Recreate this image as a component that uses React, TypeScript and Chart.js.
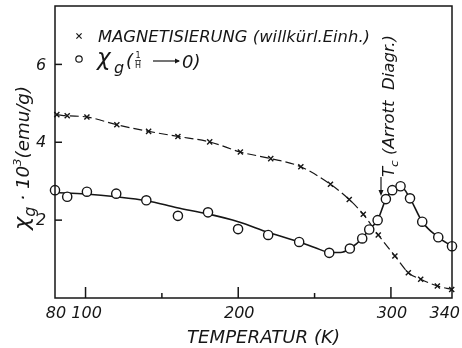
import React, { useEffect, useRef } from 'react';
import { Chart, registerables } from 'chart.js';

Chart.register(...registerables);

// Magnetisierung (willkürl. Einh.) – crosses
const magT = [81.2, 88, 100.9, 120.5, 141.3, 160.5, 181.3, 201.4, 221.3, 241, 260.4, 272.7, 281.9, 291.7, 302.6, 311.4, 319.5, 330.4, 339.8];
const magV = [4.71, 4.68, 4.65, 4.45, 4.28, 4.15, 4.01, 3.75, 3.58, 3.37, 2.92, 2.53, 2.15, 1.62, 1.08, 0.65, 0.48, 0.31, 0.22];

// chi_g (1/H -> 0) – open circles
const chiT = [80, 88, 100.9, 120.1, 139.8, 160.5, 180.2, 199.9, 219.6, 239.9, 259.6, 273.1, 281.2, 285.8, 291.3, 296.7, 300.9, 306.3, 312.5, 320.5, 331, 340];
const chiV = [2.77, 2.6, 2.73, 2.68, 2.51, 2.11, 2.2, 1.77, 1.62, 1.44, 1.16, 1.27, 1.53, 1.76, 2.0, 2.54, 2.77, 2.87, 2.56, 1.96, 1.56, 1.33];

// drawn guide curve through the circles
const fitT = [80, 100, 120, 140, 160, 180, 200, 220, 240, 250, 260, 267, 273.1, 281.2, 285.8, 291.3, 296.7, 300.9, 306.3, 312.5, 320.5, 331, 340];
const fitV = [2.71, 2.67, 2.6, 2.5, 2.32, 2.16, 1.96, 1.68, 1.44, 1.3, 1.17, 1.17, 1.27, 1.53, 1.76, 2.0, 2.54, 2.77, 2.87, 2.56, 1.96, 1.56, 1.33];

const xTickValues = [100, 150, 200, 250, 300];
const xMajorTicks = [100, 200, 300];
const xTickLabels = [80, 100, 200, 300, 340];
const yTickValues = [2, 4, 6];
const yTickLabels = [2, 4, 6];

const FONT = '"DejaVu Sans", sans-serif';
const INK = '#161616';

type Piece = { t: string; size: number; dy?: number; dx?: number };

function drawRich(ctx: CanvasRenderingContext2D, pieces: Piece[], x: number, y: number, targetWidth?: number) {
  const widths = pieces.map((p) => {
    ctx.font = `italic ${p.size}px ${FONT}`;
    return ctx.measureText(p.t).width + (p.dx || 0);
  });
  const total = widths.reduce((a, b) => a + b, 0);
  const s = targetWidth ? targetWidth / total : 1;
  ctx.save();
  ctx.translate(x, y);
  ctx.scale(s, 1);
  let cx = 0;
  pieces.forEach((p, i) => {
    ctx.font = `italic ${p.size}px ${FONT}`;
    ctx.fillText(p.t, cx + (p.dx || 0), p.dy || 0);
    cx += widths[i];
  });
  ctx.restore();
}

const sketchPlugin = {
  id: 'sketch',
  beforeDraw(chart: any) {
    const { ctx, width, height } = chart;
    ctx.save();
    ctx.fillStyle = '#ffffff';
    ctx.fillRect(0, 0, width, height);
    ctx.restore();
  },
  afterDraw(chart: any) {
    const { ctx, chartArea: a, scales } = chart;
    const x = scales.x;
    const y = scales.y;
    ctx.save();
    ctx.strokeStyle = INK;
    ctx.fillStyle = INK;
    ctx.lineWidth = 1.5;
    ctx.strokeRect(a.left, a.top, a.right - a.left, a.bottom - a.top);

    // x ticks (inward)
    xTickValues.forEach((v) => {
      const px = x.getPixelForValue(v);
      const len = xMajorTicks.includes(v) ? 11 : 5;
      ctx.beginPath();
      ctx.moveTo(px, a.bottom);
      ctx.lineTo(px, a.bottom - len);
      ctx.stroke();
    });
    // y ticks (inward)
    yTickValues.forEach((v) => {
      const py = y.getPixelForValue(v);
      ctx.beginPath();
      ctx.moveTo(a.left, py);
      ctx.lineTo(a.left + 7, py);
      ctx.stroke();
    });

    // tick labels
    ctx.font = `italic 16px ${FONT}`;
    ctx.textBaseline = 'middle';
    xTickLabels.forEach((v, i) => {
      const px = x.getPixelForValue(v);
      if (i === xTickLabels.length - 1) {
        ctx.textAlign = 'right';
        ctx.fillText(String(v), px + 8, 314);
      } else {
        ctx.textAlign = 'center';
        ctx.fillText(String(v), px + 1, 314);
      }
    });
    ctx.textAlign = 'center';
    yTickLabels.forEach((v) => {
      const py = y.getPixelForValue(v);
      ctx.fillText(String(v), a.left - 14, py + 1);
    });

    ctx.textAlign = 'left';
    ctx.textBaseline = 'alphabetic';

    // x axis title
    drawRich(ctx, [{ t: 'TEMPERATUR (K)', size: 18 }], 187, 343, 153);

    // y axis title (rotated)
    ctx.save();
    ctx.translate(29, 158);
    ctx.rotate(-Math.PI / 2);
    drawRich(
      ctx,
      [
        { t: 'χ', size: 21 },
        { t: 'g', size: 15, dy: 6 },
        { t: ' · 10', size: 17 },
        { t: '3', size: 11, dy: -8 },
        { t: '(emu/g)', size: 17 },
      ],
      -72,
      0,
      144
    );
    ctx.restore();

    // legend row 1
    ctx.lineWidth = 1.2;
    const cxm = 79, cym = 36, r = 2.6;
    ctx.beginPath();
    ctx.moveTo(cxm - r, cym - r);
    ctx.lineTo(cxm + r, cym + r);
    ctx.moveTo(cxm + r, cym - r);
    ctx.lineTo(cxm - r, cym + r);
    ctx.stroke();
    drawRich(ctx, [{ t: 'MAGNETISIERUNG (willkürl.Einh.)', size: 15 }], 98, 42, 272);

    // legend row 2
    ctx.beginPath();
    ctx.arc(79, 59, 3.2, 0, Math.PI * 2);
    ctx.stroke();
    drawRich(ctx, [{ t: 'χ', size: 23 }], 97, 65);
    drawRich(ctx, [{ t: 'g', size: 16 }], 114, 73);
    drawRich(ctx, [{ t: '(', size: 18 }], 126, 67);
    ctx.font = `8px ${FONT}`;
    ctx.textAlign = 'center';
    ctx.fillText('1', 138, 58);
    ctx.fillText('H', 138, 68);
    ctx.lineWidth = 0.8;
    ctx.beginPath();
    ctx.moveTo(135, 60.5);
    ctx.lineTo(141, 60.5);
    ctx.stroke();
    ctx.textAlign = 'left';
    ctx.lineWidth = 1.2;
    ctx.beginPath();
    ctx.moveTo(153, 61);
    ctx.lineTo(179, 61);
    ctx.stroke();
    ctx.beginPath();
    ctx.moveTo(180, 61);
    ctx.lineTo(175, 58.5);
    ctx.lineTo(175, 63.5);
    ctx.closePath();
    ctx.fill();
    drawRich(ctx, [{ t: '0)', size: 18 }], 182, 68);

    // Tc annotation (rotated)
    ctx.save();
    ctx.translate(394, 177);
    ctx.rotate(-Math.PI / 2);
    drawRich(
      ctx,
      [
        { t: 'T', size: 15 },
        { t: 'c', size: 11, dy: 4 },
        { t: ' (Arrott  Diagr.)', size: 15 },
      ],
      0,
      0,
      142
    );
    ctx.restore();
    ctx.lineWidth = 1.2;
    ctx.beginPath();
    ctx.moveTo(381, 177);
    ctx.lineTo(381, 194);
    ctx.stroke();
    ctx.beginPath();
    ctx.moveTo(381, 196);
    ctx.lineTo(378.5, 190);
    ctx.lineTo(383.5, 190);
    ctx.closePath();
    ctx.fill();

    ctx.restore();
  },
};

export default function App() {
  const ref = useRef<HTMLCanvasElement | null>(null);

  useEffect(() => {
    if (!ref.current) return;
    const chart = new Chart(ref.current, {
      type: 'line',
      data: {
        datasets: [
          {
            label: 'chi',
            data: chiT.map((t, i) => ({ x: t, y: chiV[i] })),
            showLine: false,
            pointStyle: 'circle',
            pointRadius: 4.6,
            pointBorderWidth: 1.4,
            pointBackgroundColor: '#ffffff',
            pointBorderColor: INK,
            borderColor: INK,
            order: 0,
            clip: false,
          } as any,
          {
            label: 'mag',
            data: magT.map((t, i) => ({ x: t, y: magV[i] })),
            showLine: true,
            borderColor: INK,
            borderWidth: 1.2,
            borderDash: [9, 4],
            cubicInterpolationMode: 'monotone',
            pointStyle: 'crossRot',
            pointRadius: 3.6,
            pointBorderWidth: 1.4,
            pointBorderColor: INK,
            order: 1,
            clip: false,
          } as any,
          {
            label: 'fit',
            data: fitT.map((t, i) => ({ x: t, y: fitV[i] })),
            showLine: true,
            borderColor: INK,
            borderWidth: 1.6,
            cubicInterpolationMode: 'monotone',
            pointRadius: 0,
            order: 2,
            clip: false,
          } as any,
        ],
      },
      options: {
        animation: false,
        responsive: false,
        maintainAspectRatio: false,
        events: [],
        layout: { padding: { left: 55, top: 6, right: 10, bottom: 50 } },
        plugins: { legend: { display: false }, tooltip: { enabled: false } },
        scales: {
          x: { type: 'linear', min: 80, max: 340, display: false },
          y: { type: 'linear', min: 0, max: 7.5, display: false },
        },
      },
      plugins: [sketchPlugin],
    });
    return () => chart.destroy();
  }, []);

  return (
    <div style={{ position: 'fixed', left: 0, top: 0, width: 462, height: 348, background: '#fff' }}>
      <canvas ref={ref} width={462} height={348} style={{ width: 462, height: 348, display: 'block' }} />
    </div>
  );
}
